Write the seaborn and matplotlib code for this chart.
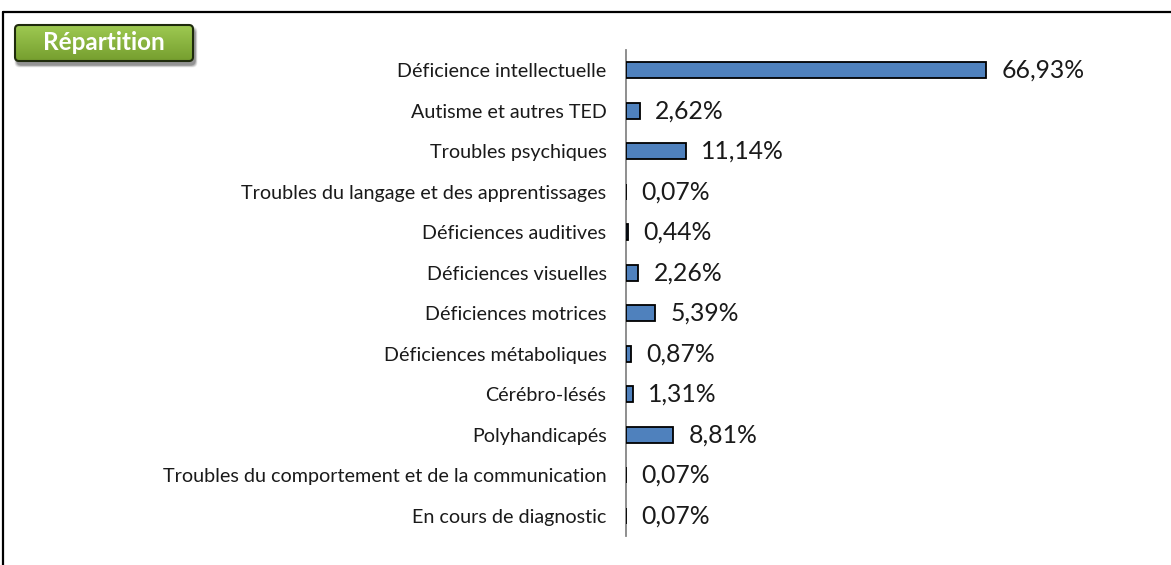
import numpy as np
import pandas as pd
import matplotlib
matplotlib.use("Agg")
import matplotlib.pyplot as plt
from matplotlib.patches import FancyBboxPatch
from matplotlib.lines import Line2D
import seaborn as sns

categories = [
    "Déficience intellectuelle",
    "Autisme et autres TED",
    "Troubles psychiques",
    "Troubles du langage et des apprentissages",
    "Déficiences auditives",
    "Déficiences visuelles",
    "Déficiences motrices",
    "Déficiences métaboliques",
    "Cérébro-lésés",
    "Polyhandicapés",
    "Troubles du comportement et de la communication",
    "En cours de diagnostic",
]
values = [66.93, 2.62, 11.14, 0.07, 0.44, 2.26, 5.39, 0.87, 1.31, 8.81, 0.07, 0.07]
title_text = "Répartition"

df = pd.DataFrame({"categorie": categories, "pourcentage": values})

sns.set_theme(style="white")
plt.rcParams["font.family"] = ["Lato", "DejaVu Sans"]

W, H = 1171, 565
fig = plt.figure(figsize=(W / 100, H / 100), dpi=100)
fig.patch.set_facecolor("white")

def fx(px):
    return px / W

def fy(py):
    return 1 - py / H

ax = fig.add_axes([fx(626), fy(536), fx(500), (536 - 50) / H])
sns.barplot(data=df, y="categorie", x="pourcentage", orient="h", ax=ax,
            color="#4F81BD", saturation=1, width=0.4,
            edgecolor="black", linewidth=1.3, zorder=3)
ax.set_xlim(0, 500 / (360 / 66.93))
ax.set_ylim(len(categories) - 0.5, -0.5)
ax.set_xlabel("")
ax.set_ylabel("")
ax.set_xticks([])
ax.tick_params(axis="y", length=0, pad=14, labelsize=14.2, labelcolor="#1a1a1a")
for s in ["top", "right", "bottom"]:
    ax.spines[s].set_visible(False)
ax.spines["left"].set_color("#868686")
ax.spines["left"].set_linewidth(1.3)
ax.spines["left"].set_zorder(1)
ax.set_facecolor("none")

for i, v in enumerate(values):
    ax.annotate(f"{v:.2f}%".replace(".", ","), xy=(v, i), xytext=(11, 0),
                textcoords="offset points", ha="left", va="center",
                fontsize=17.8, color="#1a1a1a")

# outer frame (top and left edges)
fig.add_artist(Line2D([fx(3), 1], [fy(11.5), fy(11.5)], color="black", lw=1.6))
fig.add_artist(Line2D([fx(3), fx(3)], [fy(11.5), 0], color="black", lw=1.6))

# green title badge with soft shadow and vertical gradient
bx0, by0, bx1, by1 = 15, 25, 193, 61
bw, bh = bx1 - bx0, by1 - by0
pad = 10
bax = fig.add_axes([fx(bx0 - pad), fy(by1 + pad), fx(bw + 2 * pad), (bh + 2 * pad) / H], zorder=2)
bax.set_axis_off()
bax.set_xlim(-pad, bw + pad)
bax.set_ylim(-pad, bh + pad)
for k, a in zip(range(5, 0, -1), [0.06, 0.08, 0.10, 0.12, 0.14]):
    bax.add_patch(FancyBboxPatch((2 - k * 0.5, -4 - k * 0.5), bw + k, bh + k,
                                 boxstyle="round,pad=0,rounding_size=5",
                                 facecolor="black", edgecolor="none", alpha=a))
grad = np.linspace(0, 1, 64).reshape(-1, 1)
top_c = np.array([0.62, 0.79, 0.32])
bot_c = np.array([0.46, 0.62, 0.18])
img = top_c[None, None, :] * (1 - grad[:, :, None]) + bot_c[None, None, :] * grad[:, :, None]
im = bax.imshow(img, aspect="auto", extent=[0, bw, 0, bh], origin="upper", zorder=3)
box = FancyBboxPatch((0, 0), bw, bh, boxstyle="round,pad=0,rounding_size=4",
                     facecolor="none", edgecolor="#1e2a0c", linewidth=1.5, zorder=4)
bax.add_patch(box)
im.set_clip_path(box)
bax.text(bw / 2, bh / 2, title_text, ha="center", va="center", color="white",
         fontsize=17.5, fontweight="bold", zorder=5)

fig.savefig("out.png", dpi=100)
